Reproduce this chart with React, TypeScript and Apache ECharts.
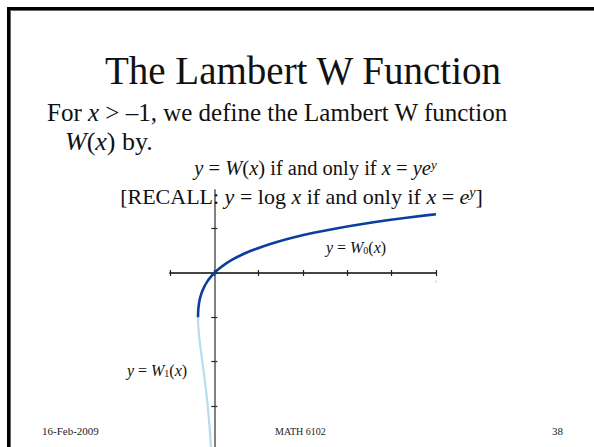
import React, { useEffect, useRef } from "react";
import * as echarts from "echarts";

// Principal branch W0: sample points (x, y) with x = y·e^y, from the branch point to x = 5
const principalX = [-0.3679, -0.3674, -0.3659, -0.3633, -0.3595, -0.3476, -0.3293, -0.3033, -0.2681, -0.2222, -0.1637, -0.0905, 0, 0.1105, 0.2443, 0.405, 0.5967, 0.8244, 1.0933, 1.4096, 1.7804, 2.2136, 2.7183, 3.3046, 3.9841, 4.7701, 5.0];
const principalY = [-1, -0.95, -0.9, -0.85, -0.8, -0.7, -0.6, -0.5, -0.4, -0.3, -0.2, -0.1, 0, 0.1, 0.2, 0.3, 0.4, 0.5, 0.6, 0.7, 0.8, 0.9, 1.0, 1.1, 1.2, 1.3, 1.3267];

// Lower branch W-1: from the branch point downwards
const lowerX = [-0.3679, -0.3662, -0.3614, -0.3543, -0.3452, -0.3347, -0.323, -0.2975, -0.2707, -0.2438, -0.2177, -0.1931, -0.1703, -0.1494, -0.1304, -0.1135, -0.0984, -0.0851, -0.0733];
const lowerY = [-1, -1.1, -1.2, -1.3, -1.4, -1.5, -1.6, -1.8, -2.0, -2.2, -2.4, -2.6, -2.8, -3.0, -3.2, -3.4, -3.6, -3.8, -4.0];

const xTicks = [-1, 0, 1, 2, 3, 4, 5];
const yTicks = [-4, -3, -2, -1, 0, 1];

const TEXT_FONT = "'Liberation Serif', 'Times New Roman', serif";

export default function App() {
  const ref = useRef<HTMLDivElement>(null);

  useEffect(() => {
    if (!ref.current) return;
    const chart = echarts.init(ref.current, null, { renderer: "svg" });

    const pairs = (xs: number[], ys: number[]) => xs.map((x, i) => [x, ys[i]]);

    const xAxisBase = {
      type: "value" as const,
      min: -1,
      max: 5,
      interval: 1,
      splitLine: { show: false },
      axisLabel: { show: false },
      axisLine: { onZero: true, lineStyle: { color: "#3a3a3a", width: 1.5 } },
      axisTick: { customValues: xTicks, length: 3, lineStyle: { color: "#222", width: 1.2 } },
    };
    const yAxisBase = {
      type: "value" as const,
      min: -4,
      max: 1.87,
      interval: 1,
      splitLine: { show: false },
      axisLine: { onZero: true, lineStyle: { color: "#808080", width: 1.8 } },
      axisTick: { customValues: yTicks, length: 3, lineStyle: { color: "#222", width: 1.2 } },
      axisLabel: { show: false },
    };

    const italic = (size: number) => ({ fontStyle: "italic", fontSize: size, fontFamily: TEXT_FONT, fill: "#111" });

    const option: any = {
      animation: false,
      backgroundColor: "#ffffff",
      grid: {
        left: 170,
        width: 266,
        top: 190.1,
        height: 260.2,
        containLabel: false,
        outerBoundsMode: "none",
      },
      xAxis: [
        { ...xAxisBase, position: "bottom" },
        { ...xAxisBase, position: "top" },
      ],
      yAxis: [
        { ...yAxisBase, position: "left" },
        { ...yAxisBase, position: "right" },
      ],
      series: [
        {
          type: "line",
          xAxisIndex: 0,
          yAxisIndex: 0,
          data: pairs(lowerX, lowerY),
          showSymbol: false,
          smooth: 0.3,
          clip: false,
          lineStyle: { color: "#b7dbf1", width: 2.2 },
          z: 3,
        },
        {
          type: "line",
          xAxisIndex: 0,
          yAxisIndex: 0,
          data: pairs(principalX, principalY),
          showSymbol: false,
          smooth: 0.3,
          lineStyle: { color: "#0b3f9e", width: 2.6 },
          z: 4,
        },
      ],
      graphic: [
        // slide frame
        { type: "rect", shape: { x: 7, y: 7, width: 600, height: 3 }, style: { fill: "#000" }, z: 10 },
        { type: "rect", shape: { x: 7, y: 10, width: 600, height: 1 }, style: { fill: "#666" }, z: 10 },
        { type: "rect", shape: { x: 7, y: 7, width: 3, height: 450 }, style: { fill: "#000" }, z: 10 },
        { type: "rect", shape: { x: 10, y: 10, width: 1, height: 450 }, style: { fill: "#666" }, z: 10 },
        {
          type: "text",
          x: 303,
          y: 70.8,
          style: {
            text: "The Lambert W Function",
            font: `39px ${TEXT_FONT}`,
            fill: "#111",
            align: "center",
            verticalAlign: "middle",
          },
        },
        {
          type: "text",
          x: 47,
          y: 112.6,
          style: {
            text: "For {i|x} > –1, we define the Lambert W function",
            font: `25px ${TEXT_FONT}`,
            fill: "#111",
            align: "left",
            verticalAlign: "middle",
            rich: { i: italic(25) },
          },
        },
        {
          type: "text",
          x: 65,
          y: 141,
          style: {
            text: "{i|W}({i|x}) by.",
            font: `26px ${TEXT_FONT}`,
            fill: "#111",
            align: "left",
            verticalAlign: "middle",
            rich: { i: italic(26) },
          },
        },
        {
          type: "text",
          x: 315.5,
          y: 168,
          style: {
            text: "{i|y} = {i|W}({i|x}) if and only if {i|x} = {i|ye}{s|y}",
            font: `20.5px ${TEXT_FONT}`,
            fill: "#111",
            align: "center",
            verticalAlign: "middle",
            rich: {
              i: italic(20.5),
              s: { ...italic(13), verticalAlign: "top" },
            },
          },
        },
        {
          type: "text",
          x: 301.5,
          y: 196,
          style: {
            text: "[RECALL: {i|y} = log {i|x} if and only if {i|x} = {i|e}{s|y}]",
            font: `22px ${TEXT_FONT}`,
            fill: "#111",
            align: "center",
            verticalAlign: "middle",
            rich: {
              i: italic(22),
              s: { ...italic(14), verticalAlign: "top" },
            },
          },
          z: 1,
        },
        {
          type: "text",
          x: 356,
          y: 247,
          style: {
            text: "{i|y} = {i|W}{b|0}({i|x})",
            font: `16px ${TEXT_FONT}`,
            fill: "#111",
            align: "center",
            verticalAlign: "middle",
            rich: {
              i: italic(16),
              b: { fontSize: 10, fontFamily: TEXT_FONT, fill: "#111", verticalAlign: "bottom" },
            },
          },
        },
        {
          type: "text",
          x: 157,
          y: 370,
          style: {
            text: "{i|y} = {i|W}{b|1}({i|x})",
            font: `16px ${TEXT_FONT}`,
            fill: "#111",
            align: "center",
            verticalAlign: "middle",
            rich: {
              i: italic(16),
              b: { fontSize: 10, fontFamily: TEXT_FONT, fill: "#111", verticalAlign: "bottom" },
            },
          },
        },
        // faint end label of the x axis
        {
          type: "text",
          x: 436,
          y: 281,
          style: { text: "5", font: `5px ${TEXT_FONT}`, fill: "#aaa", align: "center", verticalAlign: "middle" },
        },
        {
          type: "text",
          x: 42,
          y: 431,
          style: { text: "16-Feb-2009", font: `11px ${TEXT_FONT}`, fill: "#222", align: "left", verticalAlign: "middle" },
        },
        {
          type: "text",
          x: 275,
          y: 431,
          style: { text: "MATH 6102", font: `10px ${TEXT_FONT}`, fill: "#222", align: "left", verticalAlign: "middle" },
        },
        {
          type: "text",
          x: 552,
          y: 431,
          style: { text: "38", font: `11px ${TEXT_FONT}`, fill: "#222", align: "left", verticalAlign: "middle" },
        },
      ],
    };

    chart.setOption(option);
    return () => chart.dispose();
  }, []);

  return (
    <div
      ref={ref}
      style={{ position: "absolute", left: 0, top: 0, width: 594, height: 447, background: "#fff" }}
    />
  );
}
